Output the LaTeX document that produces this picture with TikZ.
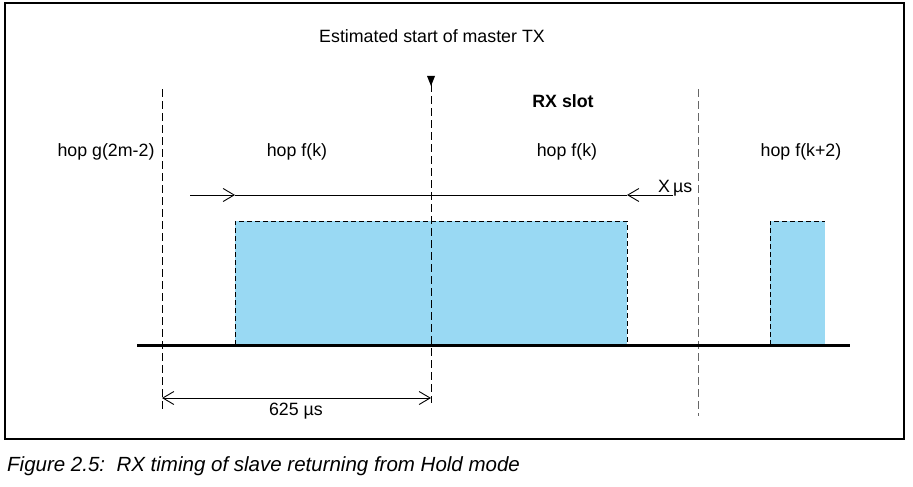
\documentclass[tikz,border=0pt]{standalone}
\usepackage{fontspec}
\setmainfont{Liberation Sans}
\usetikzlibrary{arrows.meta}
\definecolor{slotblue}{RGB}{153,217,243}
\begin{document}
\begin{tikzpicture}[x=1pt,y=-1pt,
  lbl/.style={font=\fontsize{17.8}{20}\selectfont, inner sep=0pt},
  vdash/.style={line width=1pt, dash pattern=on 8pt off 4pt},
  boxdash/.style={line width=1pt, dash pattern=on 5pt off 3pt},
  tipb/.tip={Straight Barb[length=11pt,width=13pt,line width=0.9pt]},
  barb/.style={line width=0.9pt, -tipb}
]
\useasboundingbox (0,0) rectangle (913,487);
\fill[white] (0,0) rectangle (913,487);
% frame
\draw[line width=2.5pt] (5,3) rectangle (904,439);
% slots
\fill[slotblue] (235,221) rectangle (627,345);
\draw[boxdash] (235,345) -- (235,221) -- (627,221) -- (627,345);
\fill[slotblue] (770,221) rectangle (825,345);
\draw[boxdash] (770,345) -- (770,221) -- (825,221);
% vertical dashed lines
\coordinate (g1) at (162,89);  \coordinate (g2) at (162,410);
\coordinate (m1) at (431,84);  \coordinate (m2) at (431,403);
\coordinate (r1) at (698,89);  \coordinate (r2) at (698,416);
\draw[vdash] (g1) -- (g2);
\draw[vdash] (m1) -- (m2);
\draw[vdash, black!60] (r1) -- (r2);
% marker
\fill (427,76) -- (435,76) -- (431,86) -- cycle;
% baseline
\coordinate (b1) at (137,345); \coordinate (b2) at (850,345);
\draw[line width=3pt] (b1) -- (b2);
% X us arrow
\coordinate (xa) at (190,195); \coordinate (xb) at (235,195);
\coordinate (xc) at (627,195); \coordinate (xd) at (673,195);
\draw[barb] (xa) -- (xb);
\draw[line width=0.9pt] (xb) -- (xc);
\draw[barb] (xd) -- (xc);
\node[lbl, anchor=base west] (xus) at (658,192) {X\,µs};
% 625 us arrow
\coordinate (pa) at (162,398); \coordinate (pb) at (431,398);
\draw[line width=0.9pt, tipb-tipb] (pa) -- (pb);
\node[lbl] (t625) at (296,411) {625 µs};
% labels
\node[lbl] (est) at (432,36) {Estimated start of master TX};
\node[lbl, font=\fontsize{17.8}{20}\selectfont\bfseries] (rx) at (563,101) {RX slot};
\node[lbl] (hg) at (106,152) {hop g(2m-2)};
\node[lbl] (hf1) at (297,152) {hop f(k)};
\node[lbl] (hf2) at (567,152) {hop f(k)};
\node[lbl] (hf3) at (801,152) {hop f(k+2)};
% caption
\node[lbl, anchor=west, font=\fontsize{20.5}{24}\selectfont\itshape] (cap) at (7,466) {Figure 2.5:\ \ RX timing of slave returning from Hold mode};
\end{tikzpicture}
\end{document}
